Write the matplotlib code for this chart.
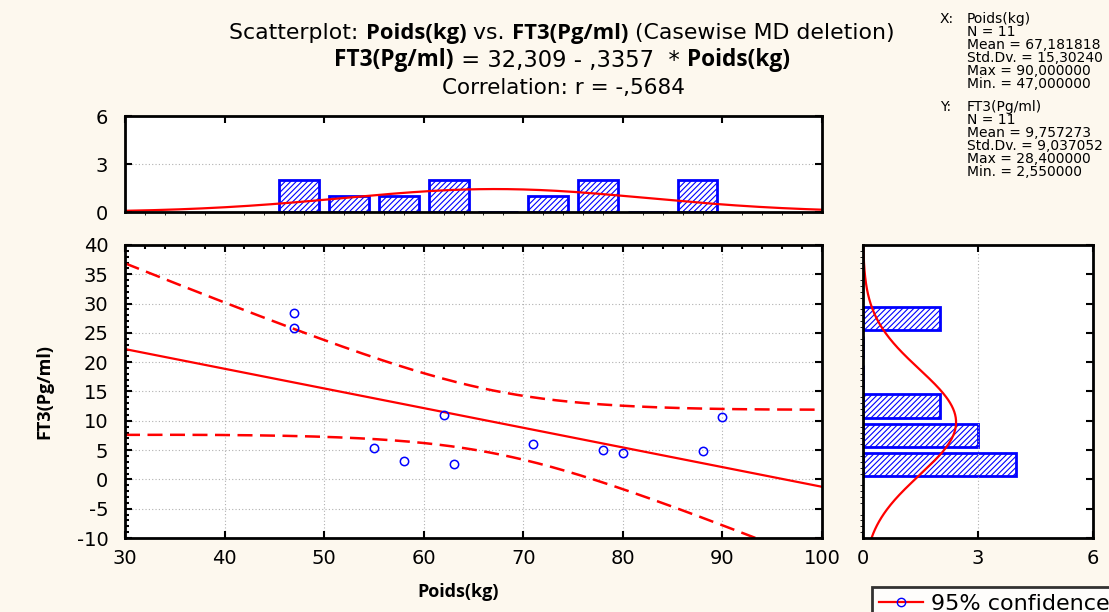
import numpy as np
import pandas as pd
import matplotlib
matplotlib.use("Agg")
import matplotlib.pyplot as plt
from matplotlib.lines import Line2D

# Data
poids = np.array([47, 47, 55, 58, 62, 63, 71, 78, 80, 88, 90], dtype=float)
ft3 = np.array([28.4, 25.8, 5.3, 3.2, 11.0, 2.55, 6.0, 5.1, 4.5, 4.78, 10.7])
intercept, slope = 32.309, -0.3357
x_edges = np.arange(45, 95, 5)
y_edges = np.arange(0, 35, 5)
x_ticks = np.arange(30, 101, 10)
y_ticks = np.arange(-10, 41, 5)
hist_ticks = [0, 3, 6]

stats_x = ["Poids(kg)", "N = 11", "Mean = 67,181818", "Std.Dv. = 15,30240",
           "Max = 90,000000", "Min. = 47,000000"]
stats_y = ["FT3(Pg/ml)", "N = 11", "Mean = 9,757273", "Std.Dv. = 9,037052",
           "Max = 28,400000", "Min. = 2,550000"]

BG = "#fdf8ee"
BLUE = "#0000ff"
RED = "#ff0000"
REG = ["DejaVu Sans"]
BOLD = ["Open Sans", "DejaVu Sans"]

plt.rcParams["font.family"] = REG
plt.rcParams["axes.unicode_minus"] = False
plt.rcParams["hatch.linewidth"] = 0.8

W, H = 1109, 612
fig = plt.figure(figsize=(W / 100, H / 100), dpi=100, facecolor=BG)


def fx(px):
    return px / W


def fy(py):
    return 1 - py / H


ax = fig.add_axes([fx(125), fy(538), fx(822 - 125), (538 - 245) / H])
ax_top = fig.add_axes([fx(125), fy(212), fx(822 - 125), (212 - 116) / H], sharex=ax)
ax_right = fig.add_axes([fx(863), fy(538), fx(1093 - 863), (538 - 245) / H], sharey=ax)

for a in (ax, ax_top, ax_right):
    a.set_facecolor("white")
    for sp in a.spines.values():
        sp.set_linewidth(2)
        sp.set_color("black")

# regression fit and 95% band
n = len(poids)
xs = np.linspace(30, 100, 300)
fit = intercept + slope * xs
resid = ft3 - (intercept + slope * poids)
s = np.sqrt(np.sum(resid ** 2) / (n - 2))
sxx = np.sum((poids - poids.mean()) ** 2)
se = s * np.sqrt(1 / n + (xs - poids.mean()) ** 2 / sxx)
t = 2.262
ax.plot(xs, fit, color=RED, lw=1.6)
ax.plot(xs, fit + t * se, color=RED, lw=1.8, ls=(0, (6, 3)))
ax.plot(xs, fit - t * se, color=RED, lw=1.8, ls=(0, (6, 3)))
ax.plot(poids, ft3, "o", mfc="none", mec=BLUE, mew=1.1, ms=6)

ax.set_xlim(30, 100)
ax.set_ylim(-10, 40)
ax.set_xticks(x_ticks)
ax.set_yticks(y_ticks)
ax.set_xticks(np.arange(30, 101, 2), minor=True)
ax.set_yticks(np.arange(-10, 41, 1), minor=True)
ax.grid(True, which="major", color="#b0b0b0", ls=(0, (1, 2)), lw=0.8)
ax.tick_params(which="both", direction="in", top=True, right=True, width=1.5)
ax.tick_params(which="major", length=5)
ax.tick_params(which="minor", length=3, bottom=False, right=False)
ax.tick_params(axis="x", labelsize=14, pad=8)
ax.tick_params(axis="y", labelsize=14, pad=12)
ax.set_xlabel("Poids(kg)", fontsize=13, fontweight="bold", family=BOLD)
ax.set_ylabel("FT3(Pg/ml)", fontsize=13, fontweight="bold", family=BOLD)
ax.xaxis.set_label_coords((458 - 125) / 697, -0.155)
ax.yaxis.set_label_coords(-0.103, 0.5)


def counts(values, edges):
    cats = pd.cut(values, bins=edges)
    return pd.Series(cats).value_counts().reindex(cats.categories).values


# top histogram of Poids
cx = counts(poids, x_edges)
centers_x = (x_edges[:-1] + x_edges[1:]) / 2
ax_top.bar(centers_x, cx, width=4, facecolor="white", edgecolor=BLUE,
           hatch="//////", lw=2)
ax_top.plot(xs, n * 5 * np.exp(-0.5 * ((xs - 67.181818) / 15.3024) ** 2)
            / (15.3024 * np.sqrt(2 * np.pi)), color=RED, lw=1.6)
ax_top.set_ylim(0, 6)
ax_top.set_yticks(hist_ticks)
ax_top.yaxis.grid(True, color="#b0b0b0", ls=(0, (1, 2)), lw=0.8)
ax_top.tick_params(axis="x", direction="in", bottom=False, top=True,
                   labelbottom=False, length=5, width=1.5)
ax_top.tick_params(axis="y", direction="in", right=True, length=5, width=1.5,
                   labelsize=14, pad=12)

# right histogram of FT3
cy = counts(ft3, y_edges)
centers_y = (y_edges[:-1] + y_edges[1:]) / 2
ax_right.barh(centers_y, cy, height=4, facecolor="white", edgecolor=BLUE,
              hatch="//////", lw=2)
ys = np.linspace(-10, 40, 300)
ax_right.plot(n * 5 * np.exp(-0.5 * ((ys - 9.757273) / 9.037052) ** 2)
              / (9.037052 * np.sqrt(2 * np.pi)), ys, color=RED, lw=1.6)
ax_right.set_xlim(0, 6)
ax_right.set_xticks(hist_ticks)
ax_right.xaxis.grid(True, color="#b0b0b0", ls=(0, (1, 2)), lw=0.8)
ax_right.tick_params(axis="y", direction="in", left=False, right=True,
                     labelleft=False, length=5, width=1.5)
ax_right.tick_params(axis="x", direction="in", top=True, length=5, width=1.5,
                     labelsize=14, pad=8)

# title, built from normal and bold pieces, scaled to the reference width
renderer = fig.canvas.get_renderer()


def rich_line(py, parts, width, xc=562, base=13):
    items = []
    for txt, bold in parts:
        tt = fig.text(0, fy(py), txt, fontsize=base,
                      family=BOLD if bold else REG,
                      fontweight="bold" if bold else "normal", va="center")
        items.append(tt)
    total = sum(tt.get_window_extent(renderer=renderer).width for tt in items)
    k = width / total
    widths = []
    for tt in items:
        tt.set_fontsize(base * k)
        widths.append(tt.get_window_extent(renderer=renderer).width)
    x = xc - sum(widths) / 2
    for tt, w in zip(items, widths):
        tt.set_x(fx(x))
        x += w


rich_line(33, [("Scatterplot: ", False), ("Poids(kg)", True), (" vs. ", False),
               ("FT3(Pg/ml)", True), (" (Casewise MD deletion)", False)], 661)
rich_line(60, [("FT3(Pg/ml)", True), (" = 32,309 - ,3357  * ", False),
               ("Poids(kg)", True)], 453)
rich_line(88, [("Correlation: r = -,5684", False)], 242, xc=564)

# descriptive stats block
for y0, label, lines in ((19, "X:", stats_x), (107, "Y:", stats_y)):
    fig.text(fx(940), fy(y0), label, fontsize=10, va="center")
    for i, line in enumerate(lines):
        fig.text(fx(967), fy(y0 + i * 13), line, fontsize=10, va="center")

# legend box, clipped by the figure edge like the reference
handle = Line2D([], [], color=RED, lw=1.6, marker="o", mfc="none", mec=BLUE,
                ms=6)
leg = fig.legend([handle], ["95% confidence"], loc="upper left",
                 bbox_to_anchor=(fx(872), fy(587)), frameon=True, fancybox=False,
                 edgecolor="black", facecolor="white",
                 prop={"size": 16}, handlelength=2.0, handletextpad=0.35,
                 borderpad=0.3, borderaxespad=0)
leg.get_frame().set_linewidth(2)

fig.savefig("out.png", dpi=100, facecolor=BG)
